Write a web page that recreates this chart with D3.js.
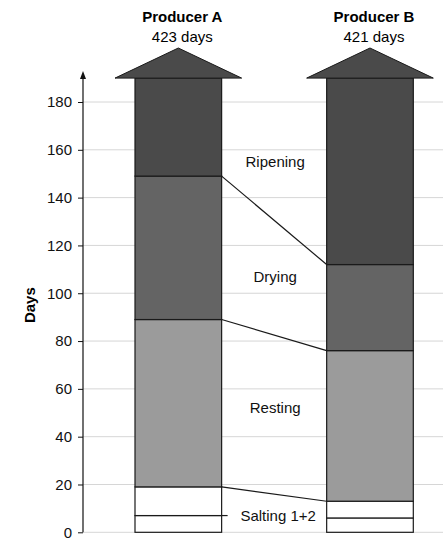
<!DOCTYPE html>
<html>
<head>
<meta charset="utf-8">
<script src="https://cdn.jsdelivr.net/npm/d3@7"></script>
<style>
  body { margin: 0; background: #fff; }
  svg { font-family: "Liberation Sans", Arial, sans-serif; }
</style>
</head>
<body>
<div id="chart"></div>
<script>
// Data
const producers = ["Producer A", "Producer B"];
const totalDays = [423, 421];
const stages = ["Salting 1", "Salting 2", "Resting", "Drying", "Ripening"];
const daysA = [7, 12, 70, 60, 274];
const daysB = [6, 7, 63, 36, 309];
const stageColors = ["#ffffff", "#ffffff", "#9b9b9b", "#646464", "#4a4a4a"];
const labelText = ["Salting 1+2", "Resting", "Drying", "Ripening"];
const labelDays = [7, 52, 107, 155];
const yTicks = [0, 20, 40, 60, 80, 100, 120, 140, 160, 180];

// Dimensions
const width = 443;
const height = 540;
const margin = {top: 102, left: 83, bottom: 7};
const yCap = 190;

const svg = d3.select("#chart")
  .append("svg")
  .attr("width", width)
  .attr("height", height);

const yScale = d3.scaleLinear()
  .domain([0, 180])
  .range([height - margin.bottom - 0.7, margin.top]);

const xScale = d3.scaleBand()
  .domain(producers)
  .range([77.5, 470.8])
  .paddingInner(0.548)
  .paddingOuter(0.3);

// stack each producer
const series = [daysA, daysB].map(arr => {
  let acc = 0;
  return arr.map((v, i) => {
    const s = {stage: stages[i], y0: acc, y1: Math.min(acc + v, yCap), color: stageColors[i]};
    acc += v;
    return s;
  });
});

// gridlines
svg.append("g")
  .selectAll("line")
  .data(yTicks)
  .enter()
  .append("line")
  .attr("x1", margin.left)
  .attr("x2", width)
  .attr("y1", d => yScale(d))
  .attr("y2", d => yScale(d))
  .attr("stroke", "#d6d6d6")
  .attr("stroke-width", 1);

// y axis
const yAxis = svg.append("g")
  .attr("transform", "translate(" + margin.left + ",0)")
  .call(d3.axisLeft(yScale).tickValues(yTicks).tickSize(5).tickPadding(6));
yAxis.select(".domain").remove();
yAxis.selectAll("text").attr("font-size", 15).attr("fill", "#111")
  .attr("font-family", "Liberation Sans, Arial, sans-serif");
yAxis.selectAll("line").attr("stroke", "#111");

svg.append("line")
  .attr("x1", margin.left).attr("x2", margin.left)
  .attr("y1", yScale(0)).attr("y2", 76)
  .attr("stroke", "#111").attr("stroke-width", 1.2);
svg.append("path")
  .attr("d", d3.line()([[margin.left - 3, 79], [margin.left, 71], [margin.left + 3, 79]]))
  .attr("fill", "#111");

svg.append("text")
  .attr("transform", "translate(29," + yScale(95) + ") rotate(-90)")
  .attr("text-anchor", "middle")
  .attr("dominant-baseline", "central")
  .attr("font-size", 15)
  .attr("font-weight", "bold")
  .text("Days");

// bars
const bars = svg.selectAll(null)
  .data(series)
  .enter()
  .append("g")
  .attr("transform", (d, i) => "translate(" + xScale(producers[i]) + ",0)");

bars.selectAll("rect")
  .data(d => d)
  .enter()
  .append("rect")
  .attr("x", 0)
  .attr("width", xScale.bandwidth())
  .attr("y", d => yScale(d.y1))
  .attr("height", d => yScale(d.y0) - yScale(d.y1))
  .attr("fill", d => d.color)
  .attr("stroke", "#1a1a1a")
  .attr("stroke-width", 1.2);

// roofs (arrows)
const bw = xScale.bandwidth();
bars.append("path")
  .attr("d", d3.line()([[-20, yScale(yCap)], [bw / 2, 48], [bw + 20, yScale(yCap)]]) + "Z")
  .attr("fill", "#4a4a4a")
  .attr("stroke", "#1a1a1a")
  .attr("stroke-width", 1);

// titles
producers.forEach((p, i) => {
  const cx = xScale(p) + bw / 2;
  svg.append("text")
    .attr("x", cx + 4).attr("y", 22)
    .attr("text-anchor", "middle")
    .attr("font-size", 15).attr("font-weight", "bold")
    .text(p);
  svg.append("text")
    .attr("x", cx + 4).attr("y", 42)
    .attr("text-anchor", "middle")
    .attr("font-size", 15)
    .text(totalDays[i] + " days");
});

// connectors between boundaries
const xA = xScale(producers[0]) + bw;
const xB = xScale(producers[1]);
const links = [1, 2, 3].map(k => [series[0][k].y1, series[1][k].y1]);
svg.selectAll(null)
  .data(links)
  .enter()
  .append("line")
  .attr("x1", xA).attr("x2", xB)
  .attr("y1", d => yScale(d[0]))
  .attr("y2", d => yScale(d[1]))
  .attr("stroke", "#1a1a1a")
  .attr("stroke-width", 1.2);

// salting leader line
svg.append("line")
  .attr("x1", xA).attr("x2", xA + 6)
  .attr("y1", yScale(series[0][0].y1)).attr("y2", yScale(series[0][0].y1))
  .attr("stroke", "#1a1a1a").attr("stroke-width", 1.2);

// stage labels
const midX = (xA + xB) / 2 + 1;
svg.selectAll(null)
  .data(labelText)
  .enter()
  .append("text")
  .attr("x", (d, i) => i === 0 ? midX + 3 : midX)
  .attr("y", (d, i) => yScale(labelDays[i]))
  .attr("text-anchor", "middle")
  .attr("dominant-baseline", "central")
  .attr("font-size", 15)
  .attr("fill", "#111")
  .text(d => d);
</script>
</body>
</html>
